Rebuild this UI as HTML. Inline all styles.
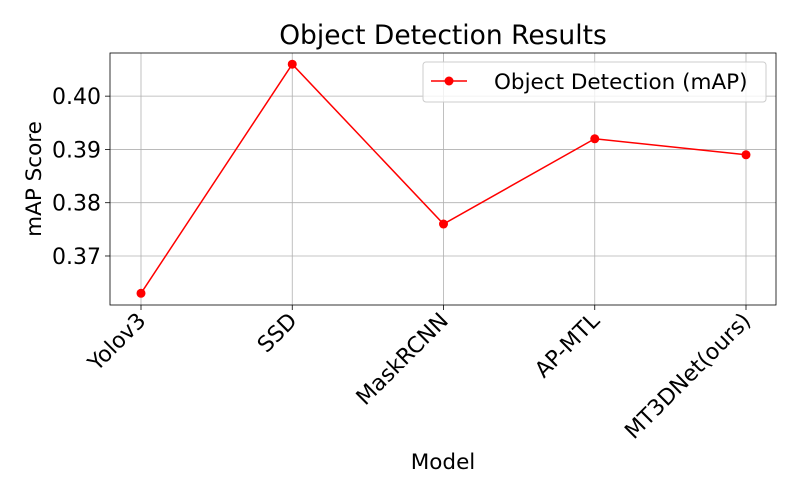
<!DOCTYPE html>
<html><head><meta charset="utf-8"><style>
body{margin:0;background:#fff;}
svg{display:block;font-family:"DejaVu Sans","Liberation Sans",sans-serif;}
</style></head><body>
<svg id="chart" width="800" height="500"></svg>
<script>
const categories = ["Yolov3","SSD","MaskRCNN","AP-MTL","MT3DNet(ours)"];
const values = [0.363,0.406,0.376,0.392,0.389];
const yTicks = [0.37,0.38,0.39,0.40];
const yTickLabels = ["0.37","0.38","0.39","0.40"];

const NS="http://www.w3.org/2000/svg";
const svg=document.getElementById('chart');
const L=110,R=776,T=53,B=305;
const yMin=0.3608,yMax=0.4081;
const x=i=>141+i*(746-141)/(categories.length-1);
const y=v=>B-(v-yMin)/(yMax-yMin)*(B-T);
function mk(tag,attrs,parent){const e=document.createElementNS(NS,tag);for(const k in attrs)e.setAttribute(k,attrs[k]);(parent||svg).appendChild(e);return e;}

categories.forEach((c,i)=>{
  const g=mk('line',{x1:x(i),x2:x(i),y1:T,y2:B,stroke:'#b0b0b0','stroke-width':0.8});
  
  
});
yTicks.forEach((v,i)=>{
  const g=mk('line',{x1:L,x2:R,y1:y(v),y2:y(v),stroke:'#b0b0b0','stroke-width':0.8});
  
  
  const t=mk('line',{x1:L-5,x2:L,y1:y(v),y2:y(v),stroke:'#000','stroke-width':0.8});
  
  
  const lb=mk('text',{x:L-9,y:y(v)+8,'text-anchor':'end','font-size':22});
  lb.textContent=yTickLabels[i];
  
  
});
categories.forEach((c,i)=>{
  const t=mk('line',{x1:x(i),x2:x(i),y1:B,y2:B+5,stroke:'#000','stroke-width':0.8});
  
  
  const lb=mk('text',{x:x(i)+6,y:B+17,'text-anchor':'end','font-size':22,transform:`rotate(-45 ${x(i)+6} ${B+17})`});
  lb.textContent=c;
  
  
});
const frame=mk('rect',{x:L,y:T,width:R-L,height:B-T,fill:'none',stroke:'#000','stroke-width':0.8});



const line=mk('polyline',{points:values.map((v,i)=>x(i)+','+y(v)).join(' '),fill:'none',stroke:'red','stroke-width':1.5});


values.forEach((v,i)=>{
  const p=mk('circle',{cx:x(i),cy:y(v),r:4.5,fill:'red'});
  
  
});

const title=mk('text',{x:443,y:44,'text-anchor':'middle','font-size':26.5});
title.textContent='Object Detection Results';


const xt=mk('text',{x:443,y:469,'text-anchor':'middle','font-size':21.5});
xt.textContent='Model';


const yt=mk('text',{x:41,y:179,'text-anchor':'middle','font-size':21.5,transform:'rotate(-90 41 179)'});
yt.textContent='mAP Score';



const lg=mk('g',{});


mk('rect',{x:423,y:62,width:343,height:40,rx:3,fill:'#fff','fill-opacity':0.8,stroke:'#ccc'},lg);
mk('line',{x1:431,x2:467,y1:81,y2:81,stroke:'red','stroke-width':1.5},lg);
mk('circle',{cx:449,cy:81,r:4.5,fill:'red'},lg);
const lt=mk('text',{x:494,y:89,'font-size':21.5},lg);
lt.textContent='Object Detection (mAP)';


</script>
</body></html>
